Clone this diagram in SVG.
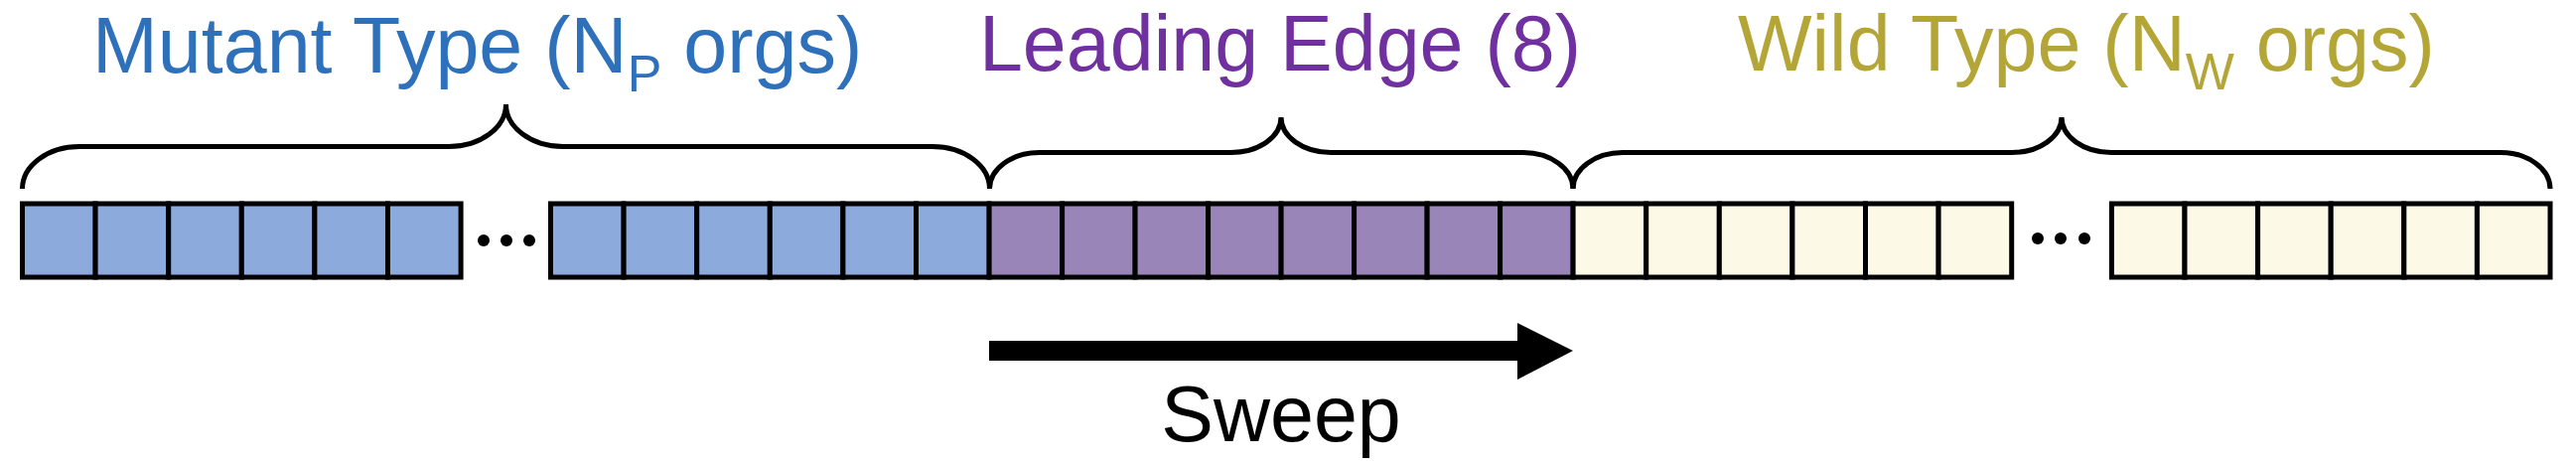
<svg xmlns="http://www.w3.org/2000/svg" width="2594" height="468" viewBox="0 0 2594 468">
<style>
.lbl{font-family:"Liberation Sans",Arial,sans-serif;font-size:79px}
.brace{fill:none;stroke:#000;stroke-width:5;stroke-linecap:butt}
.cell{stroke:#000;stroke-width:5}
.mut{fill:#8DAADC}
.lead{fill:#9A85B8}
.wild{fill:#FDF9E7}
.dot{fill:#000}
</style>
<rect width="2594" height="468" fill="#fff"/>
<g id="label-mutant">
<text class="lbl" x="93" y="73" fill="#2F70BA">Mutant Type (N<tspan dy="19" font-size="52">P</tspan><tspan dy="-19"> orgs)</tspan></text>
</g>
<g id="label-leading">
<text class="lbl" x="1289" y="71" fill="#7030A0" text-anchor="middle">Leading Edge (8)</text>
</g>
<g id="label-wild">
<text class="lbl" x="1750" y="71" fill="#B3A637">Wild Type (N<tspan dy="19" font-size="52">W</tspan><tspan dy="-19"> orgs)</tspan></text>
</g>
<g id="braces">
<path class="brace" d="M22.5 190 A57.5 42.5 0 0 1 80 147.5 H452 A57.5 42.5 0 0 0 509.5 105 A57.5 42.5 0 0 0 567 147.5 H939 A57.5 42.5 0 0 1 996.5 190"/>
<path class="brace" d="M996.5 190 A50 36.5 0 0 1 1046.5 153.5 H1240 A50 35.5 0 0 0 1290 118 A50 35.5 0 0 0 1340 153.5 H1534 A50 36.5 0 0 1 1584 190"/>
<path class="brace" d="M1584 190 A50 36.5 0 0 1 1634 153.5 H2026 A50 35.5 0 0 0 2076 118 A50 35.5 0 0 0 2126 153.5 H2518 A50 36.5 0 0 1 2568 190"/>
</g>
<g id="mutant-cells">
<rect class="cell mut" x="22.5" y="205" width="73.6" height="74"/>
<rect class="cell mut" x="96.1" y="205" width="73.6" height="74"/>
<rect class="cell mut" x="169.7" y="205" width="73.6" height="74"/>
<rect class="cell mut" x="243.3" y="205" width="73.6" height="74"/>
<rect class="cell mut" x="316.9" y="205" width="73.6" height="74"/>
<rect class="cell mut" x="390.5" y="205" width="73.6" height="74"/>
<circle class="dot" cx="487" cy="242" r="6"/>
<circle class="dot" cx="510" cy="242" r="6"/>
<circle class="dot" cx="533" cy="242" r="6"/>
<rect class="cell mut" x="554.5" y="205" width="73.6" height="74"/>
<rect class="cell mut" x="628.1" y="205" width="73.6" height="74"/>
<rect class="cell mut" x="701.7" y="205" width="73.6" height="74"/>
<rect class="cell mut" x="775.3" y="205" width="73.6" height="74"/>
<rect class="cell mut" x="848.9" y="205" width="73.6" height="74"/>
<rect class="cell mut" x="922.5" y="205" width="73.6" height="74"/>
</g>
<g id="leading-cells">
<rect class="cell lead" x="996.1" y="205" width="73.5" height="74"/>
<rect class="cell lead" x="1069.6" y="205" width="73.5" height="74"/>
<rect class="cell lead" x="1143.1" y="205" width="73.5" height="74"/>
<rect class="cell lead" x="1216.6" y="205" width="73.5" height="74"/>
<rect class="cell lead" x="1290.1" y="205" width="73.5" height="74"/>
<rect class="cell lead" x="1363.6" y="205" width="73.5" height="74"/>
<rect class="cell lead" x="1437.1" y="205" width="73.5" height="74"/>
<rect class="cell lead" x="1510.6" y="205" width="73.5" height="74"/>
</g>
<g id="wild-cells">
<rect class="cell wild" x="1584.1" y="205" width="73.6" height="74"/>
<rect class="cell wild" x="1657.7" y="205" width="73.6" height="74"/>
<rect class="cell wild" x="1731.3" y="205" width="73.6" height="74"/>
<rect class="cell wild" x="1804.9" y="205" width="73.6" height="74"/>
<rect class="cell wild" x="1878.5" y="205" width="73.6" height="74"/>
<rect class="cell wild" x="1952.1" y="205" width="73.6" height="74"/>
<circle class="dot" cx="2052" cy="240" r="6"/>
<circle class="dot" cx="2075" cy="240" r="6"/>
<circle class="dot" cx="2099" cy="240" r="6"/>
<rect class="cell wild" x="2126.4" y="205" width="73.6" height="74"/>
<rect class="cell wild" x="2200" y="205" width="73.6" height="74"/>
<rect class="cell wild" x="2273.6" y="205" width="73.6" height="74"/>
<rect class="cell wild" x="2347.2" y="205" width="73.6" height="74"/>
<rect class="cell wild" x="2420.8" y="205" width="73.6" height="74"/>
<rect class="cell wild" x="2494.4" y="205" width="73.6" height="74"/>
</g>
<g id="sweep">
<path d="M996 343 H1528 V325 L1584 353 L1528 382 V363 H996 Z" fill="#000"/>
<text class="lbl" x="1290" y="444" fill="#000" text-anchor="middle" font-size="81">Sweep</text>
</g>
</svg>
